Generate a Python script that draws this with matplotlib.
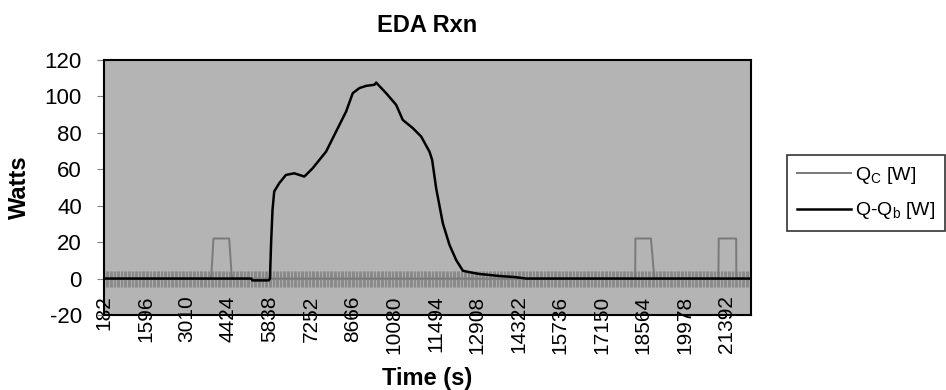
import matplotlib
matplotlib.use("Agg")
import matplotlib.pyplot as plt
from matplotlib.ticker import MultipleLocator, FixedLocator

plt.rcParams['font.family'] = ['Liberation Sans', 'DejaVu Sans']
plt.rcParams['axes.unicode_minus'] = False

# ---------------------------
# Data
# ---------------------------
time_labels = [182, 1596, 3010, 4424, 5838, 7252, 8666, 10080, 11494,
               12908, 14322, 15736, 17150, 18564, 19978, 21392]
t_start, t_end = 182, 22240

# Q - Qb [W]
t_qqb = [182, 5200, 5240, 5800, 5840, 5880, 5927, 5985, 6157, 6385, 6670,
         7012, 7297, 7753, 8094, 8436, 8663, 8891, 9119, 9403, 9460, 9800,
         10141, 10368, 10710, 10994, 11278, 11369, 11506, 11733, 11960,
         12188, 12416, 12644, 12988, 13300, 13671, 14200, 14582, 22240]
qqb = [0, 0, -1, -1, 0, 20, 37.7, 47.8, 52.4, 56.9, 57.8,
       56, 60.6, 69.7, 80.7, 91.7, 101.8, 104.6, 105.8, 106.4, 107.6, 101.8,
       95.4, 87.1, 82.6, 78, 69.7, 65.2, 49.6, 30.4, 18.5,
       10.2, 4.3, 3.5, 2.5, 2, 1.4, 0.8, 0, 0]

# Qc [W] (heater pulses)
t_qc = [182, 3820, 3846, 3914, 4450, 4529, 4560, 18280, 18292, 18300,
        18828, 18930, 18960, 21120, 21130, 21140, 21734, 21740, 22240]
qc = [0, 0, 3, 22, 22, 3, 0, 0, 3, 22,
      22, 3, 0, 0, 3, 22, 22, 0, 0]

fig = plt.figure(figsize=(9.46, 3.90), dpi=100)
ax = fig.add_axes([104 / 946, 75 / 390, 647 / 946, 255 / 390])
ax.set_facecolor('#b4b4b4')

ax.plot(t_qc, qc, color='#7a7a7a', lw=1.4, label=r'Q$_\mathregular{C}$ [W]', zorder=3)
ax.plot(t_qqb, qqb, color='black', lw=1.8, label=r'Q-Q$_\mathregular{b}$ [W]', zorder=4)

ax.set_xlim(t_start, t_end)
ax.set_ylim(-20, 120)
ax.yaxis.set_major_locator(MultipleLocator(20))
ax.xaxis.set_major_locator(FixedLocator(time_labels))
ax.set_xticklabels([str(v) for v in time_labels], rotation=90)
ax.tick_params(axis='x', length=0, labelsize=15, pad=-14)
ax.tick_params(axis='y', length=5, color='#808080', labelsize=16, pad=11)

for s in ax.spines.values():
    s.set_linewidth(1.5)

# dense category ticks crossing the axis at y = 0
sec = ax.secondary_xaxis(20 / 140)
sec.xaxis.set_major_locator(MultipleLocator(1414 / 30))
sec.tick_params(direction='inout', length=11, width=0.8, color='#8a8a8a',
                labelbottom=False)
sec.spines['bottom'].set_color('#8a8a8a')
sec.spines['bottom'].set_linewidth(0.8)

ax.set_title('EDA Rxn', fontsize=17, fontweight='bold', pad=20)
ax.set_ylabel('Watts', fontsize=17, fontweight='bold', va='center')
ax.yaxis.set_label_coords(-0.130, 0.5)
ax.set_xlabel('Time (s)', fontsize=17, fontweight='bold', va='center')
ax.xaxis.set_label_coords(0.5, -0.25)

leg = fig.legend(loc='upper left', bbox_to_anchor=(787 / 946, 1 - 155 / 390),
                 fontsize=14, frameon=True, fancybox=False, handlelength=2.8,
                 borderpad=0.5, labelspacing=0.75, handletextpad=0.2,
                 borderaxespad=0)
leg.get_frame().set_edgecolor('black')
leg.get_frame().set_linewidth(1.2)

fig.savefig('out.png', dpi=100)
